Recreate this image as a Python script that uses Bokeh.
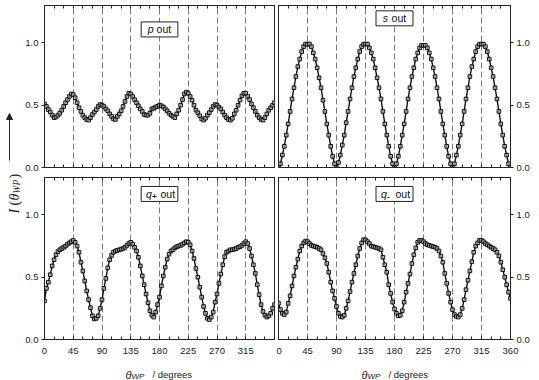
import numpy as np
from bokeh.plotting import figure
from bokeh.models import (Range1d, FixedTicker, LinearAxis, Label, Arrow, NormalHead,
                          Grid, BoxAnnotation)
from bokeh.layouts import row, column
from bokeh.embed import file_html
from bokeh.resources import INLINE

# ---------------- data ----------------
theta = list(range(0, 361, 3))

p_out = [0.51, 0.49, 0.465, 0.445, 0.42, 0.40, 0.405, 0.42, 0.435, 0.46,
         0.49, 0.52, 0.545, 0.57, 0.59, 0.585, 0.56, 0.52, 0.48, 0.45,
         0.42, 0.40, 0.385, 0.38, 0.40, 0.425, 0.445, 0.465, 0.49, 0.505,
         0.50, 0.49, 0.47, 0.455, 0.43, 0.41, 0.39, 0.385, 0.41, 0.43,
         0.455, 0.49, 0.53, 0.57, 0.595, 0.59, 0.57, 0.545, 0.52, 0.495,
         0.47, 0.45, 0.425, 0.42, 0.42, 0.435, 0.47, 0.475, 0.485, 0.49,
         0.50, 0.495, 0.485, 0.47, 0.455, 0.435, 0.42, 0.41, 0.40, 0.43,
         0.46, 0.50, 0.545, 0.59, 0.605, 0.595, 0.57, 0.54, 0.50, 0.46,
         0.44, 0.415, 0.39, 0.38, 0.395, 0.42, 0.44, 0.465, 0.49, 0.505,
         0.50, 0.485, 0.47, 0.445, 0.42, 0.40, 0.385, 0.38, 0.395, 0.43,
         0.46, 0.50, 0.54, 0.575, 0.595, 0.595, 0.57, 0.545, 0.51, 0.48,
         0.45, 0.42, 0.40, 0.385, 0.38, 0.40, 0.43, 0.46, 0.48, 0.50, 0.52]

s_out = [0.00, 0.03, 0.10, 0.17, 0.26, 0.35, 0.45, 0.55, 0.64, 0.73,
         0.81, 0.87, 0.93, 0.97, 0.99, 0.99, 0.99, 0.97, 0.92, 0.87,
         0.80, 0.72, 0.64, 0.54, 0.45, 0.35, 0.26, 0.17, 0.09, 0.03,
         0.00, 0.04, 0.10, 0.18, 0.26, 0.36, 0.45, 0.55, 0.64, 0.73,
         0.80, 0.87, 0.93, 0.97, 0.99, 0.99, 0.99, 0.96, 0.92, 0.87,
         0.80, 0.72, 0.64, 0.55, 0.45, 0.35, 0.26, 0.17, 0.09, 0.03,
         0.00, 0.03, 0.09, 0.17, 0.26, 0.35, 0.45, 0.55, 0.64, 0.73,
         0.80, 0.87, 0.92, 0.96, 0.98, 0.98, 0.98, 0.96, 0.92, 0.87,
         0.80, 0.73, 0.64, 0.55, 0.45, 0.35, 0.26, 0.17, 0.09, 0.03,
         0.00, 0.03, 0.10, 0.17, 0.26, 0.35, 0.45, 0.55, 0.64, 0.73,
         0.81, 0.87, 0.93, 0.97, 0.99, 0.99, 0.99, 0.97, 0.93, 0.87,
         0.80, 0.73, 0.64, 0.55, 0.45, 0.35, 0.26, 0.17, 0.10, 0.03, 0.00]

q_plus_out = [0.31, 0.41, 0.46, 0.52, 0.59, 0.64, 0.68, 0.705, 0.72, 0.73,
              0.74, 0.75, 0.765, 0.775, 0.785, 0.795, 0.78, 0.75, 0.70, 0.62,
              0.55, 0.47, 0.39, 0.32, 0.255, 0.19, 0.165, 0.17, 0.19, 0.25,
              0.32, 0.41, 0.49, 0.575, 0.64, 0.675, 0.70, 0.71, 0.715, 0.72,
              0.725, 0.73, 0.74, 0.755, 0.77, 0.78, 0.765, 0.74, 0.71, 0.66,
              0.59, 0.51, 0.44, 0.365, 0.295, 0.23, 0.195, 0.18, 0.22, 0.28,
              0.34, 0.43, 0.51, 0.58, 0.645, 0.685, 0.71, 0.72, 0.735, 0.745,
              0.75, 0.755, 0.765, 0.775, 0.785, 0.78, 0.76, 0.71, 0.65, 0.57,
              0.50, 0.42, 0.34, 0.265, 0.21, 0.17, 0.16, 0.18, 0.22, 0.30,
              0.365, 0.45, 0.525, 0.60, 0.665, 0.70, 0.71, 0.72, 0.72, 0.725,
              0.73, 0.74, 0.745, 0.755, 0.77, 0.785, 0.77, 0.73, 0.67, 0.60,
              0.53, 0.44, 0.36, 0.28, 0.225, 0.195, 0.18, 0.19, 0.21, 0.25, 0.28]

q_minus_out = [0.29, 0.24, 0.21, 0.20, 0.22, 0.29, 0.35, 0.43, 0.51, 0.58,
               0.645, 0.71, 0.75, 0.775, 0.79, 0.785, 0.77, 0.755, 0.75, 0.745,
               0.74, 0.73, 0.72, 0.69, 0.655, 0.61, 0.54, 0.46, 0.39, 0.33,
               0.265, 0.21, 0.185, 0.18, 0.195, 0.25, 0.31, 0.385, 0.46, 0.53,
               0.60, 0.67, 0.73, 0.775, 0.80, 0.80, 0.785, 0.77, 0.75, 0.745,
               0.74, 0.735, 0.73, 0.72, 0.66, 0.60, 0.54, 0.44, 0.37, 0.30,
               0.245, 0.21, 0.19, 0.195, 0.23, 0.30, 0.38, 0.45, 0.525, 0.61,
               0.68, 0.735, 0.78, 0.795, 0.795, 0.785, 0.77, 0.76, 0.755, 0.75,
               0.745, 0.74, 0.73, 0.71, 0.67, 0.62, 0.53, 0.45, 0.37, 0.30,
               0.24, 0.20, 0.185, 0.18, 0.20, 0.25, 0.32, 0.40, 0.475, 0.55,
               0.625, 0.70, 0.75, 0.775, 0.795, 0.795, 0.785, 0.77, 0.76, 0.75,
               0.74, 0.73, 0.72, 0.70, 0.67, 0.62, 0.56, 0.50, 0.44, 0.38, 0.33]

x_major_ticks = [0, 45, 90, 135, 180, 225, 270, 315, 360]
x_minor_ticks = list(range(0, 361, 15))
dash_positions = [45, 90, 135, 180, 225, 270, 315]
y_ticks = [0.0, 0.5, 1.0]
y_tick_labels = {0.0: "0.0", 0.5: "0.5", 1.0: "1.0"}

SANS = "Liberation Sans"
SERIF = "Liberation Serif"
INK = "#222222"
TICK_FS = "9.5px"

# pixel geometry
LAB_W = 22
LEFT_B = 42 - LAB_W
FRAME_W, FRAME_H = 232, 162
PX_PER_UNIT = FRAME_H / 1.3


def make_panel(values, side, pos, name, sub):
    left = side == "left"
    top = pos == "top"
    p = figure(width=(LEFT_B + FRAME_W + 2) if left else (2 + FRAME_W + 29),
               height=(5 + FRAME_H + 4) if top else (6 + FRAME_H + 20),
               x_range=Range1d(0, 360), y_range=Range1d(0, 1.3),
               output_backend="svg", toolbar_location=None,
               x_axis_location=None, y_axis_location=None,
               min_border_left=LEFT_B if left else 2,
               min_border_right=2 if left else 29,
               min_border_top=5 if top else 6,
               min_border_bottom=4 if top else 20,
               outline_line_color=INK, outline_line_width=1,
               background_fill_color="white", border_fill_color="white")
    p.grid.visible = False

    # dashed verticals
    p.add_layout(Grid(dimension=0, ticker=FixedTicker(ticks=dash_positions),
                      grid_line_color="#7a7a7a", grid_line_dash="6 3",
                      grid_line_width=1))

    # bottom axis: ticks inside
    if top:
        xb = LinearAxis(ticker=FixedTicker(ticks=[], minor_ticks=x_minor_ticks),
                        minor_tick_in=3, minor_tick_out=0,
                        axis_line_color=INK, minor_tick_line_color=INK,
                        major_label_standoff=0)
    else:
        major = x_major_ticks[:-1] if left else x_major_ticks
        xb = LinearAxis(ticker=FixedTicker(ticks=major, minor_ticks=x_minor_ticks),
                        major_tick_in=3, major_tick_out=0, minor_tick_in=3, minor_tick_out=0,
                        axis_line_color=INK, major_tick_line_color=INK,
                        minor_tick_line_color=INK,
                        major_label_text_font=SANS, major_label_text_font_size=TICK_FS,
                        major_label_text_color="#222222", major_label_standoff=8)
    p.add_layout(xb, "below")

    # top axis: ticks inside, no labels
    xt = LinearAxis(ticker=FixedTicker(ticks=[], minor_ticks=x_minor_ticks),
                    minor_tick_in=3, minor_tick_out=0,
                    axis_line_color=INK, minor_tick_line_color=INK,
                    major_label_standoff=0)
    p.add_layout(xt, "above")

    # y axis
    ya = LinearAxis(ticker=FixedTicker(ticks=y_ticks),
                    major_label_overrides=y_tick_labels,
                    major_tick_in=0, major_tick_out=3, minor_tick_in=0, minor_tick_out=0,
                    axis_line_color=INK, major_tick_line_color=INK,
                    major_label_text_font=SANS, major_label_text_font_size=TICK_FS,
                    major_label_text_color="#222222",
                    major_label_standoff=3)
    p.add_layout(ya, "left" if left else "right")

    # data
    p.line(theta, values, line_color="#111111", line_width=1.4)
    p.scatter(theta, values, marker="square", size=3.6, fill_color="#bbbbbb",
              fill_alpha=0.7, line_color="#111111", line_width=1)

    # boxed panel label
    cx = 180
    cy = (1.108 if left else 1.197) if top else 1.168
    bw = 57.4 / 2
    bh = 7.5 / PX_PER_UNIT
    p.add_layout(BoxAnnotation(left=cx - bw, right=cx + bw, bottom=cy - bh, top=cy + bh,
                               fill_color="white", fill_alpha=1, line_color=INK,
                               line_width=1, line_alpha=1))
    fs = "10.5px"
    if sub is None:
        x0 = -11.7
        p.add_layout(Label(x=cx, y=cy, x_offset=x0, text=name, text_font=SANS,
                           text_font_style="italic", text_font_size=fs,
                           text_align="left", text_baseline="middle", text_color="#111111"))
        p.add_layout(Label(x=cx, y=cy, x_offset=x0 + 8.8, text="out", text_font=SANS,
                           text_font_size=fs, text_align="left", text_baseline="middle",
                           text_color="#111111"))
    else:
        x0 = -13.5
        p.add_layout(Label(x=cx, y=cy, x_offset=x0, text=name, text_font=SANS,
                           text_font_style="italic", text_font_size=fs,
                           text_align="left", text_baseline="middle", text_color="#111111"))
        p.add_layout(Label(x=cx, y=cy - 2.5 / PX_PER_UNIT, x_offset=x0 + 5.9, text=sub,
                           text_font=SANS, text_font_size="8px", text_font_style="bold",
                           text_align="left", text_baseline="middle", text_color="#111111"))
        p.add_layout(Label(x=cx, y=cy, x_offset=x0 + 14.5, text="out", text_font=SANS,
                           text_font_size=fs, text_align="left", text_baseline="middle",
                           text_color="#111111"))
    return p


tl = make_panel(p_out, "left", "top", "p", None)
tr = make_panel(s_out, "right", "top", "s", None)
bl = make_panel(q_plus_out, "left", "bottom", "q", "+")
br = make_panel(q_minus_out, "right", "bottom", "q", "-")

# x axis title strip (below the bottom panels)
STRIP_W, STRIP_H = 539 - LAB_W, 21
xs = figure(width=STRIP_W, height=STRIP_H, x_range=Range1d(0, STRIP_W),
            y_range=Range1d(0, STRIP_H), output_backend="svg", toolbar_location=None,
            min_border=0, x_axis_location=None, y_axis_location=None,
            outline_line_color=None, background_fill_color="white",
            border_fill_color="white")
xs.grid.visible = False
for shift in (0, 236):
    x0 = 125 - LAB_W + shift
    xs.add_layout(Label(x=x0, y=6, text="θ", text_font=SANS, text_font_style="italic",
                        text_font_size="11px", text_align="left",
                        text_baseline="alphabetic", text_color="#222222"))
    xs.add_layout(Label(x=x0 + 6, y=3.6, text="WP", text_font=SANS, text_font_style="italic",
                        text_font_size="8px", text_align="left",
                        text_baseline="alphabetic", text_color="#222222"))
    xs.add_layout(Label(x=x0 + 27, y=6, text="/ degrees", text_font=SANS,
                        text_font_size="9.5px", text_align="left",
                        text_baseline="alphabetic", text_color="#222222"))

# y axis title column
lab = figure(width=LAB_W, height=380, x_range=Range1d(0, LAB_W), y_range=Range1d(0, 380),
             output_backend="svg", toolbar_location=None, min_border=0,
             x_axis_location=None, y_axis_location=None, outline_line_color=None,
             background_fill_color="white", border_fill_color="white")
lab.grid.visible = False
H = 380
base_x = 14
pieces = [
    ("I", SERIF, "italic", "14px", base_x, 213),
    ("(", SERIF, "normal", "14px", base_x, 205),
    ("θ", SERIF, "italic", "14px", base_x, 200),
    ("WP", SERIF, "italic", "9.5px", base_x + 2.5, 193),
    (")", SERIF, "normal", "14px", base_x, 178),
]
for txt, font, style, size, bx, sy in pieces:
    lab.add_layout(Label(x=bx, y=H - sy, text=txt, text_font=font, text_font_style=style,
                         text_font_size=size, angle=np.pi / 2, text_align="left",
                         text_baseline="alphabetic", text_color="#222222"))
lab.add_layout(Arrow(x_start=9, y_start=H - 160, x_end=9, y_end=H - 113,
                     line_color="#222222", line_width=1,
                     end=NormalHead(size=6, fill_color="#222222", line_color="#222222")))

layout = row(lab, column(row(tl, tr), row(bl, br), xs))
open("out.html", "w").write(file_html(layout, INLINE))
